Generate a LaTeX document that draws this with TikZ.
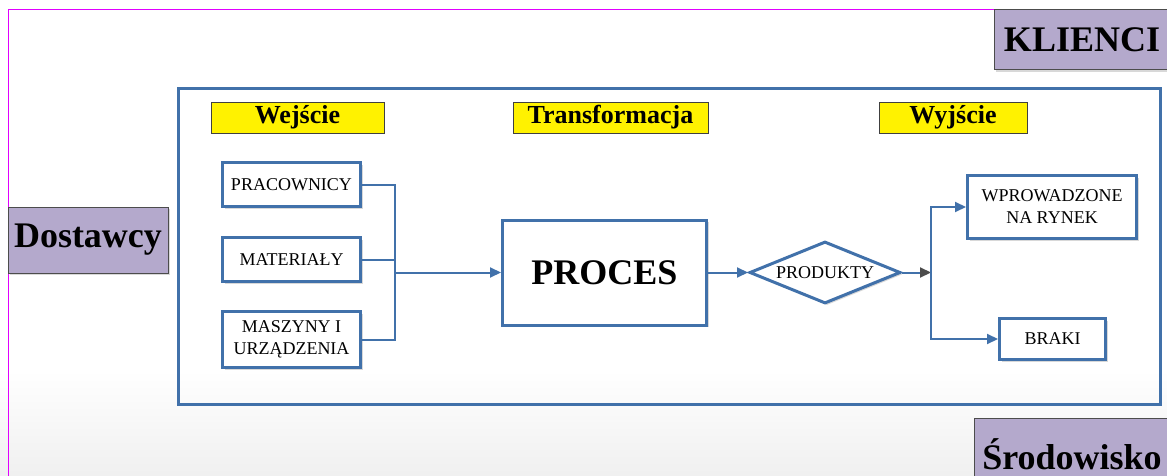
\documentclass[tikz,border=0pt]{standalone}
\usepackage{fontspec}
\setmainfont{Liberation Serif}
\usetikzlibrary{shapes.geometric,arrows.meta,shadows}
\definecolor{ramka}{RGB}{65,113,170}
\definecolor{fiolet}{RGB}{180,169,204}
\definecolor{rozowy}{RGB}{225,0,255}
\begin{document}
\begin{tikzpicture}[x=1pt,y=-1pt,
    cien/.style={drop shadow={shadow xshift=2pt,shadow yshift=-2pt,fill=black!30,opacity=.5}},
    blok/.style={draw=ramka,line width=3pt,fill=white,align=center,inner sep=0pt,
        font=\fontsize{18}{22}\selectfont,cien},
    etykieta/.style={draw=black!75,line width=0.8pt,fill=yellow,inner sep=0pt,
        font=\fontsize{26}{30}\selectfont\bfseries},
    strona/.style={draw=black!70,line width=1pt,fill=fiolet,inner sep=0pt,
        font=\fontsize{36}{40}\selectfont\bfseries,cien},
    laczn/.style={draw=ramka,line width=2pt},
    grot/.style={laczn,-{Triangle[length=11pt,width=10pt]}}]
    \useasboundingbox (0,0) rectangle (1167,476);
    \clip (0,0) rectangle (1167,476);
    \fill[white] (0,0) rectangle (1167,476);
    \shade[top color=white,bottom color=black!6] (0,370) rectangle (1167,476);
    \draw[rozowy,line width=1pt] (8,476) -- (8,10) -- (1000,10);
    % otoczenie
    \node[strona,minimum width=176,minimum height=60] (klienci) at (1082,40) {KLIENCI};
    \node[strona,minimum width=160,minimum height=66] (dostawcy) at (88,240) {Dostawcy};
    \node[strona,minimum width=196,minimum height=72] (srodowisko) at (1072,454) {Środowisko};
    \draw[ramka,line width=3pt] (178,89) rectangle (1160,404);
    % naglowki
    \node[etykieta,minimum width=173,minimum height=31] (wejscie) at (297.5,117.5) {Wejście};
    \node[etykieta,minimum width=195,minimum height=31] (transf) at (610.5,117.5) {Transformacja};
    \node[etykieta,minimum width=148,minimum height=31] (wyjscie) at (953,117.5) {Wyjście};
    % bloki
    \node[blok,minimum width=138,minimum height=44] (prac) at (291.5,184.5) {PRACOWNICY};
    \node[blok,minimum width=138,minimum height=44] (mat) at (291.5,259.5) {MATERIAŁY};
    \node[blok,minimum width=138,minimum height=56] (masz) at (291.5,339.5) {MASZYNY I\\URZĄDZENIA};
    \node[blok,minimum width=204,minimum height=105,font=\fontsize{36}{40}\selectfont\bfseries] (proces) at (604.5,272.5) {PROCES};
    \node[blok,diamond,shape aspect=2.5,minimum width=151,minimum height=62] (produkty) at (825,272.5) {PRODUKTY};
    \node[blok,minimum width=169,minimum height=63] (wpr) at (1052,207) {WPROWADZONE\\NA RYNEK};
    \node[blok,minimum width=106,minimum height=41] (braki) at (1052.5,339) {BRAKI};
    \coordinate (zb) at (395,272.5);
    \coordinate (rozg) at (931,272.5);
    % polaczenia
    \draw[laczn] (prac.east) -| (zb);
    \draw[laczn] (masz.east) -| (zb);
    \draw[laczn] (mat.east) -- (mat.east -| zb);
    \draw[grot] (zb) -- (proces.west);
    \draw[grot] (proces.east) -- (produkty.west);
    \draw[laczn,-{Triangle[length=11pt,width=10pt,color=black!70]}] (produkty.east) -- (rozg);
    \draw[grot] (rozg) |- (wpr.west);
    \draw[grot] (rozg) |- (braki.west);
\end{tikzpicture}
\end{document}
